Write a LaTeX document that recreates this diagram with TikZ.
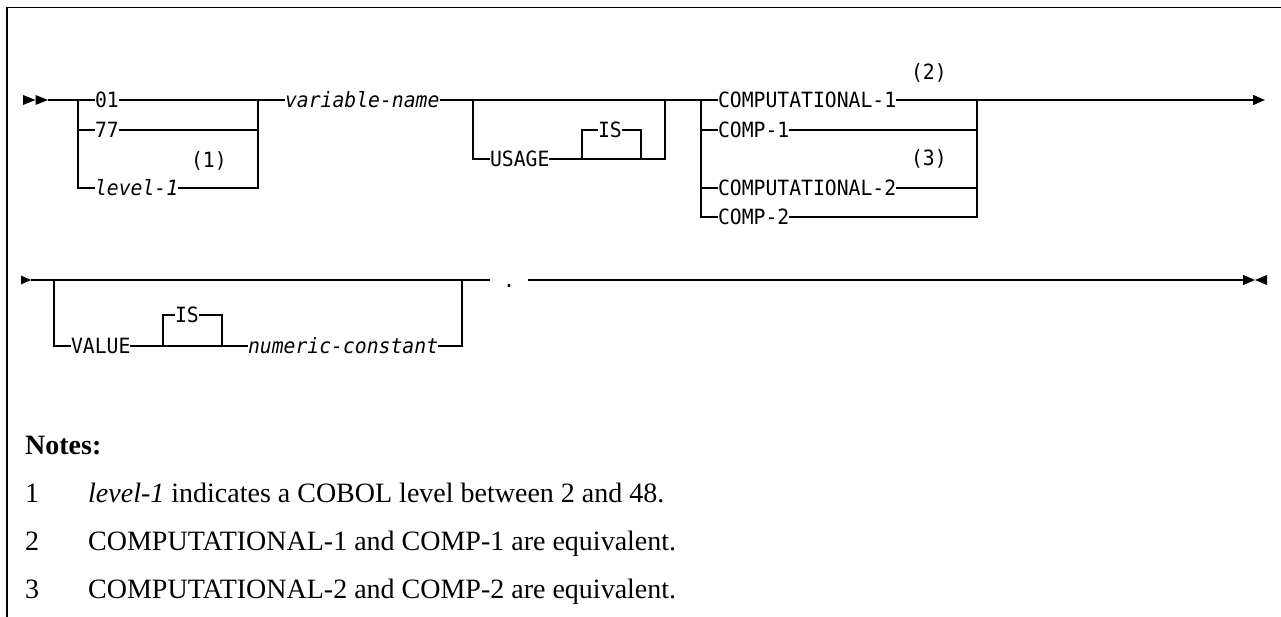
\documentclass[tikz,border=0pt]{standalone}
\usepackage{fontspec}
\setmainfont{Liberation Serif}
\newfontfamily\monof[FakeStretch=0.94]{DejaVu Sans Mono}
\usetikzlibrary{arrows.meta}
\begin{document}
\begin{tikzpicture}[x=1pt,y=-1pt,
  line/.style={line width=1.3pt},
  syn/.style={font=\monof\fontsize{21}{25}\selectfont, inner sep=0pt, outer sep=0pt, text height=15.3pt, text depth=0pt, anchor=west},
  it/.style={syn, font=\monof\itshape\fontsize{21}{25}\selectfont},
  note/.style={font=\fontsize{28}{34}\selectfont, inner sep=0pt, anchor=base west},
  endtip/.style={-{Triangle[length=12pt,width=10pt]}}]
\useasboundingbox (0,0) rectangle (1281,617);
% frame
\draw[line width=1.5pt] (7,617) -- (7,7.3) -- (1281,7.3);
% ---------- row 1 ----------
\fill (23,95) -- (35.5,100) -- (23,105) -- cycle;
\fill (35.5,95) -- (48,100) -- (35.5,105) -- cycle;
\coordinate (s1) at (48,100);
\coordinate (b1L) at (78,100);
\node[syn] (t01) at (95,100) {01};
\node[syn] (t77) at (95,130) {77};
\node[it] (tlev) at (95,188) {level-1};
\node[syn] (n1) at (191,160) {(1)};
\coordinate (b1R) at (258,100);
\node[it] (tvar) at (285,100) {variable-name};
\coordinate (bUL) at (473,100);
\node[syn] (tuse) at (490,159) {USAGE};
\coordinate (bIL) at (582,159);
\node[syn] (tis1) at (598,130) {IS};
\coordinate (bIR) at (641,159);
\coordinate (bUR) at (665,100);
\coordinate (bCL) at (701,100);
\node[syn] (tc1) at (718,100) {COMPUTATIONAL-1};
\node[syn] (tcp1) at (718,130) {COMP-1};
\node[syn] (tc2) at (718,188) {COMPUTATIONAL-2};
\node[syn] (tcp2) at (718,217) {COMP-2};
\node[syn] (n2) at (911,72) {(2)};
\node[syn] (n3) at (911,158) {(3)};
\coordinate (bCR) at (977,100);
\coordinate (e1) at (1265,100);
\draw[line] (s1) -- (t01.west);
\draw[line] (b1L) |- (t77.west);
\draw[line] (b1L) |- (tlev.west);
\draw[line] (t01.east) -- (b1R) -- (tvar.west);
\draw[line] (t77.east) -- (t77.east -| b1R);
\draw[line] (tlev.east) -| (b1R);
\draw[line] (tvar.east) -- (tc1.west);
\draw[line] (bUL) |- (tuse.west);
\draw[line] (tuse.east) -- (bIR) -| (bUR);
\draw[line] (bIL) |- (tis1.west);
\draw[line] (tis1.east) -| (bIR);
\draw[line] (bCL) |- (tcp1.west);
\draw[line] (bCL) |- (tc2.west);
\draw[line] (bCL) |- (tcp2.west);
\draw[line] (tc1.east) -- (bCR);
\draw[line] (tcp1.east) -- (tcp1.east -| bCR);
\draw[line] (tc2.east) -- (tc2.east -| bCR);
\draw[line] (tcp2.east) -| (bCR);
\draw[line,endtip] (bCR) -- (e1);
% ---------- row 2 ----------
\fill (21,275.5) -- (31,280) -- (21,284.5) -- cycle;
\coordinate (s2) at (31,280);
\coordinate (bVL) at (54,280);
\node[syn] (tval) at (71,346) {VALUE};
\coordinate (bI2L) at (163,346);
\node[syn] (tis2) at (175,315) {IS};
\coordinate (bI2R) at (222,346);
\node[it] (tnum) at (248,346) {numeric-constant};
\coordinate (bVR) at (462,280);
\coordinate (p1) at (490,280);
\node[syn, anchor=center] (dot) at (509,280) {.};
\coordinate (p2) at (528,280);
\coordinate (e2) at (1255,280);
\draw[line] (s2) -- (p1);
\draw[line] (bVL) |- (tval.west);
\draw[line] (tval.east) -- (tnum.west);
\draw[line] (bI2L) |- (tis2.west);
\draw[line] (tis2.east) -| (bI2R);
\draw[line] (tnum.east) -| (bVR);
\draw[line,endtip] (p2) -- (e2);
\fill (1267,275) -- (1255,280) -- (1267,285) -- cycle;
% ---------- notes ----------
\node[note, font=\bfseries\fontsize{28}{34}\selectfont] (notes) at (25,454) {Notes:};
\node[note] (k1) at (25,502) {1};
\node[note] (l1) at (88,502) {\textit{level-1} indicates a COBOL level between 2 and 48.};
\node[note] (k2) at (25,550) {2};
\node[note] (l2) at (88,550) {COMPUTATIONAL-1 and COMP-1 are equivalent.};
\node[note] (k3) at (25,598) {3};
\node[note] (l3) at (88,598) {COMPUTATIONAL-2 and COMP-2 are equivalent.};
\end{tikzpicture}
\end{document}
